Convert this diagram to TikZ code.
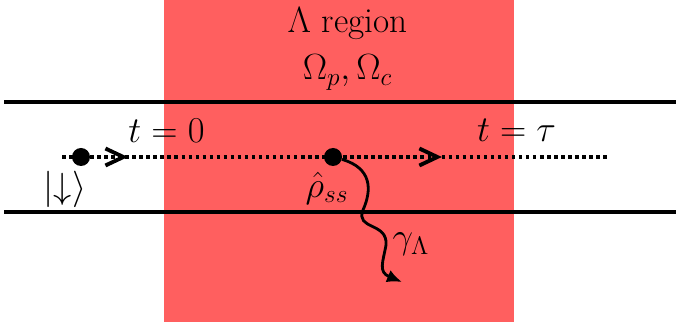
\documentclass[tikz,border=0pt]{standalone}
\usepackage{amsmath}
\usepackage{amssymb}
\usepackage{xcolor}
\usepackage{tikz}
\usetikzlibrary{arrows.meta, decorations.markings}

\definecolor{lambdared}{RGB}{255,95,95}

\begin{document}
\begin{tikzpicture}[font={\fontsize{20}{24}\selectfont},
    wall/.style={line width=2.4pt},
    beam/.style={line width=2pt, dash pattern=on 2pt off 2pt},
    atom/.style={circle, fill=black, inner sep=0pt, minimum size=3.6mm}]
    \useasboundingbox (0,0) rectangle (13.52,6.44);
    % Lambda region
    \fill[lambdared] (3.28,0) rectangle (10.28,6.44);
    \node[anchor=base] (region) at (6.95,5.78) {$\Lambda$ region};
    \node[anchor=base] (rabi) at (6.95,4.84) {$\Omega_p,\Omega_c$};
    % Walls
    \coordinate (topleft) at (0.08,4.40);
    \coordinate (topright) at (13.52,4.40);
    \coordinate (botleft) at (0.08,2.20);
    \coordinate (botright) at (13.52,2.20);
    \draw[wall] (topleft) -- (topright);
    \draw[wall] (botleft) -- (botright);
    % Atom path
    \coordinate (beamin) at (1.24,3.30);
    \coordinate (beamout) at (12.14,3.30);
    \draw[beam, postaction={decorate}, decoration={markings,
        mark=at position 0.121 with {\arrow{Straight Barb[length=3.6mm, width=3.4mm, line width=2.2pt]}},
        mark=at position 0.697 with {\arrow{Straight Barb[length=3.6mm, width=3.4mm, line width=2.2pt]}}}]
        (beamin) -- (beamout);
    \node[atom] (start) at (1.62,3.30) {};
    \node[atom] (steady) at (6.66,3.30) {};
    \node[anchor=base] (tzero) at (3.33,3.58) {$t=0$};
    \node[anchor=base] (ttau) at (10.33,3.60) {$t=\tau$};
    \node (down) at (1.30,2.66) {$|{\downarrow}\rangle$};
    \node[inner sep=0.5pt] (rho) at (6.54,2.68) {$\hat{\rho}_{ss}$};
    % Decay
    \coordinate (decay) at (8.04,0.80);
    \draw[line width=1.6pt, -{Latex[length=3mm, width=2.6mm]}] (steady.-15)
        .. controls (7.44,3.08) and (7.44,2.64) .. (7.26,2.24)
        .. controls (7.10,1.84) and (7.76,2.00) .. (7.72,1.54)
        .. controls (7.66,1.20) and (7.56,1.00) .. (decay);
    \node (gamma) at (8.22,1.55) {$\gamma_\Lambda$};
\end{tikzpicture}
\end{document}
